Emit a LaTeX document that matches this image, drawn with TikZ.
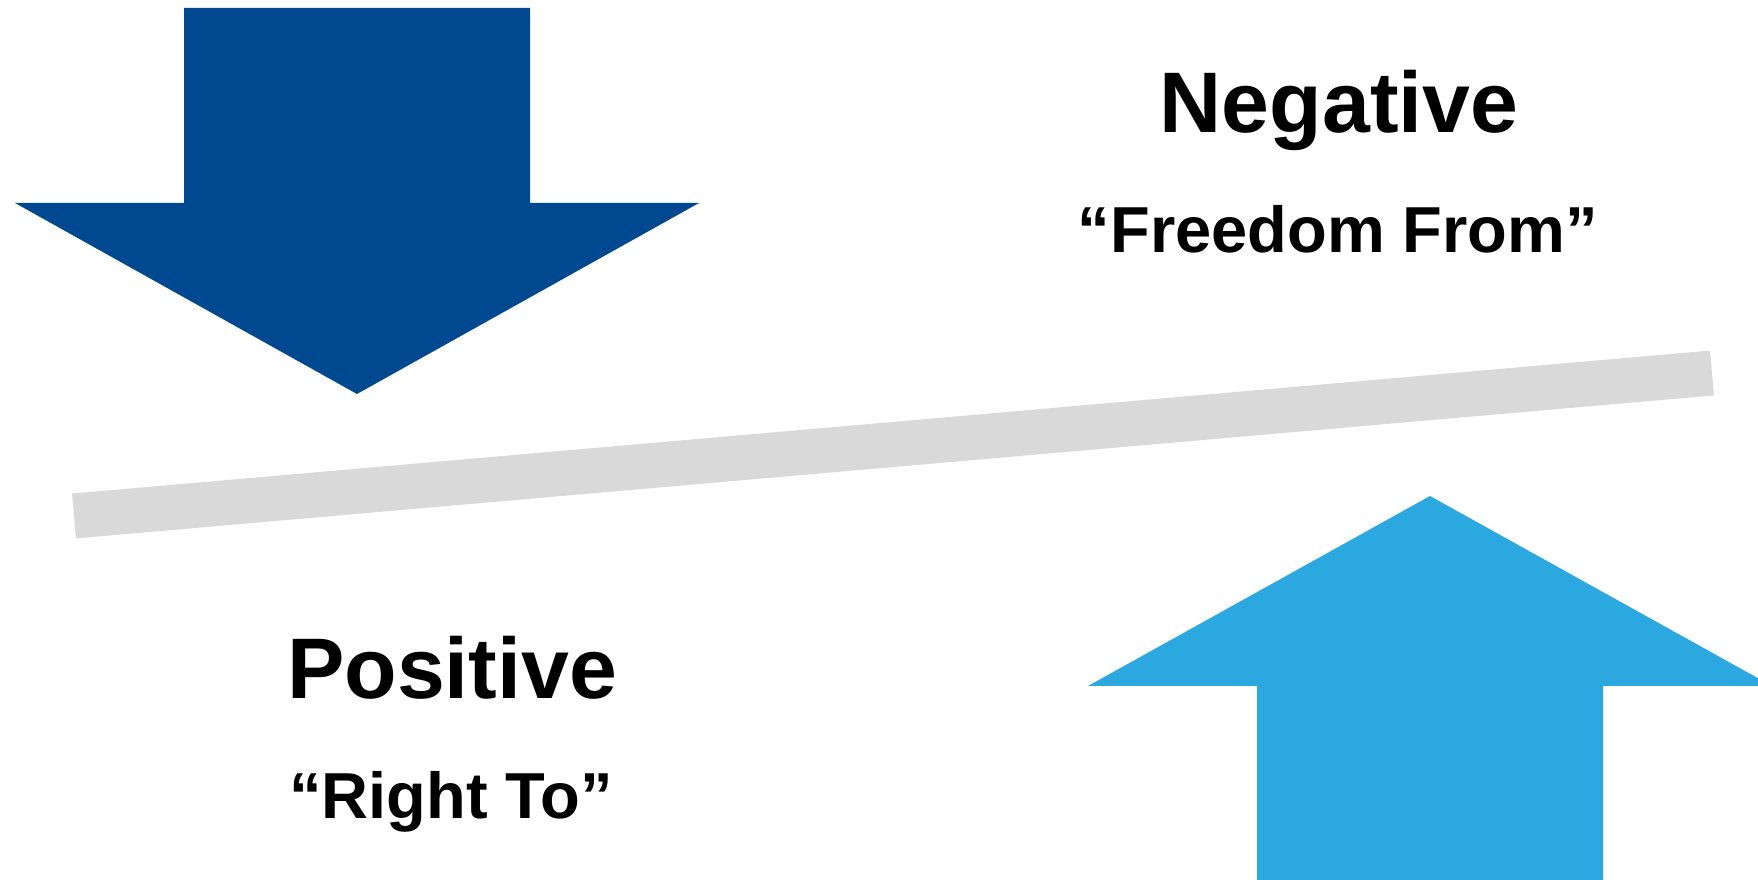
\documentclass[tikz,border=0pt]{standalone}
\usepackage{fontspec}
\setmainfont{Liberation Sans}
\usetikzlibrary{positioning}
\definecolor{downblue}{RGB}{0,73,144}
\definecolor{upblue}{RGB}{44,168,224}
\definecolor{beamgray}{RGB}{217,217,217}
\tikzset{
  heading/.style={anchor=base,inner sep=0pt,font=\fontsize{86}{100}\selectfont\bfseries},
  quote/.style={anchor=base,inner sep=0pt,font=\fontsize{65}{78}\selectfont\bfseries}
}

\begin{document}
\begin{tikzpicture}[x=1pt,y=1pt]
  \useasboundingbox (0,0) rectangle (1758,880);
  \clip (0,0) rectangle (1758,880);
  % pushing down
  \fill[downblue] (184,872) -- (530,872) -- (530,677) -- (699,677)
    -- (357,486) -- (15,677) -- (184,677) -- cycle;
  % pushing up
  \fill[upblue] (1257,-5) -- (1603,-5) -- (1603,194) -- (1772,194)
    -- (1430,384) -- (1088,194) -- (1257,194) -- cycle;
  % the beam
  \coordinate (beamL) at (74,364);
  \coordinate (beamR) at (1712,507);
  \draw[beamgray,line width=45] (beamL) -- (beamR);
  \node[heading] (neg) at (1339,747) {Negative};
  \node[quote] (negq) at (1338,627) {“Freedom From”};
  \node[heading] (pos) at (452,181.5) {Positive};
  \node[quote] (posq) at (451,61.5) {“Right To”};
\end{tikzpicture}
\end{document}
